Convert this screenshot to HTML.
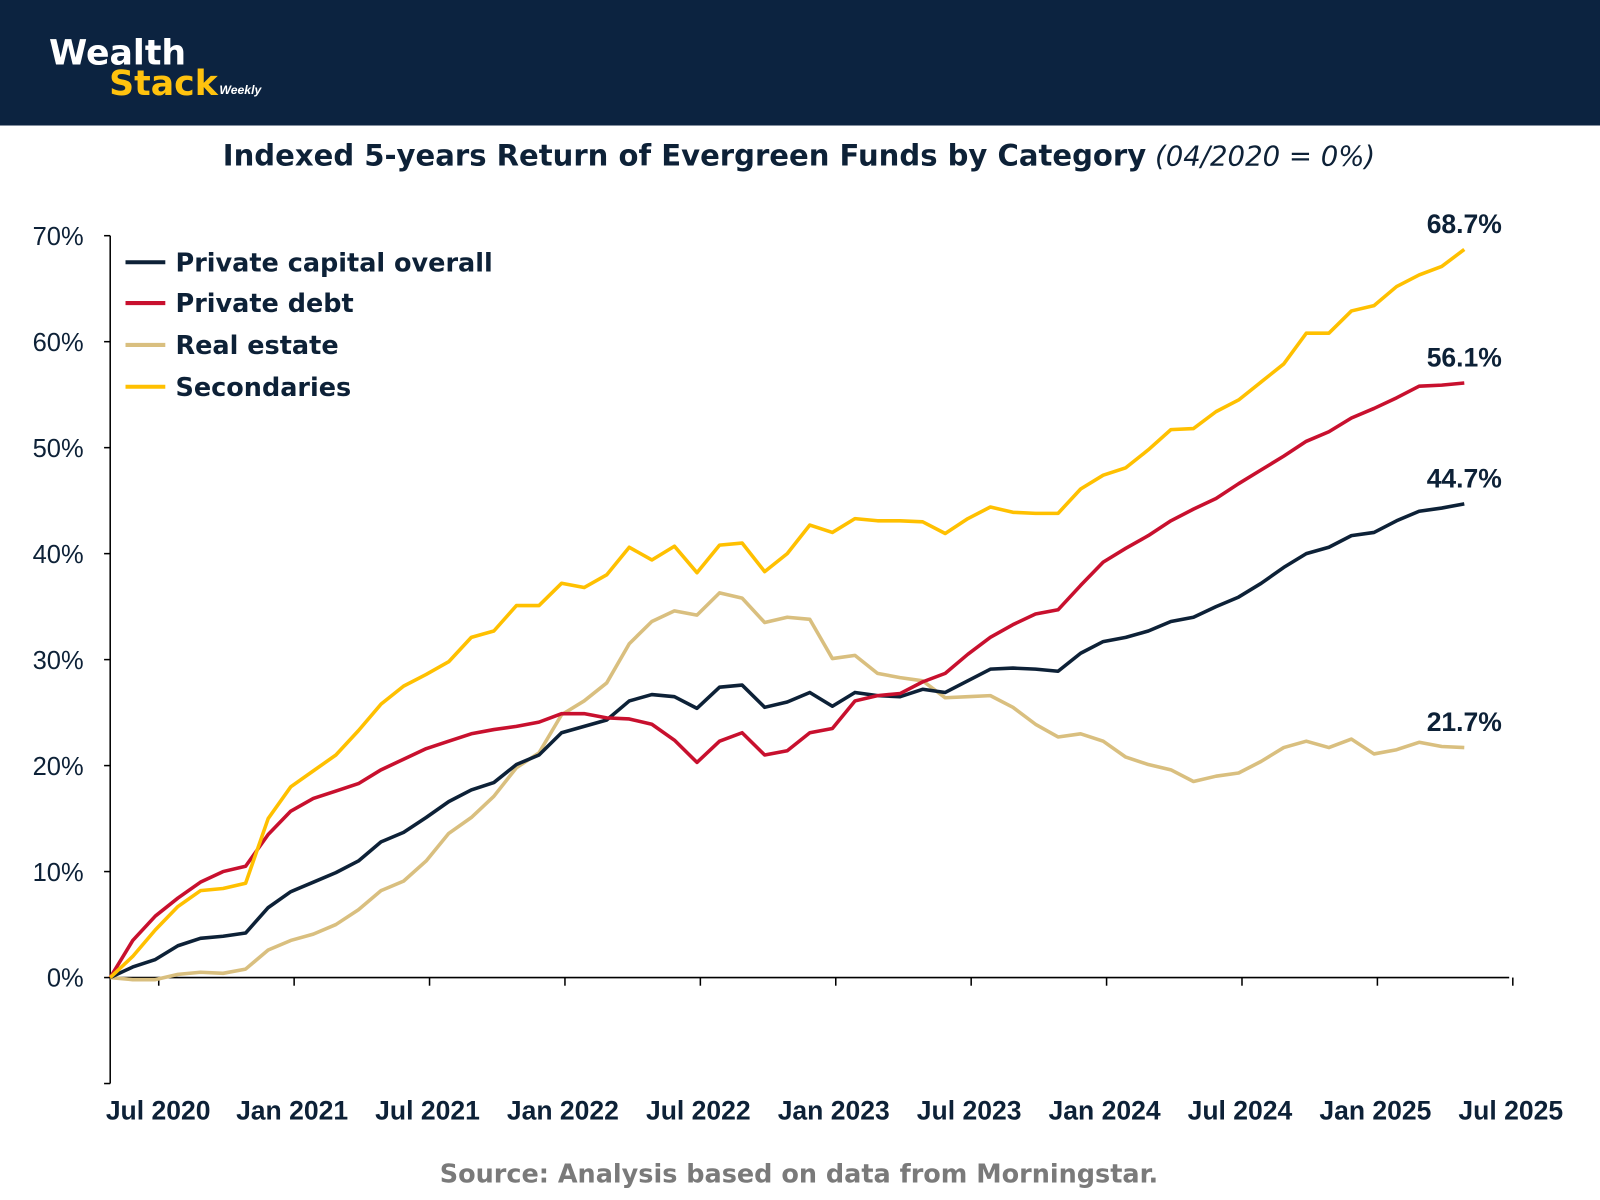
<!DOCTYPE html>
<html><head><meta charset="utf-8"><style>
html,body{margin:0;padding:0;background:#fff}
svg{display:block}
text{font-family:"Liberation Sans",sans-serif}
.dj{font-family:"DejaVu Sans",sans-serif}
</style></head><body>
<svg id="chart" width="1600" height="1200" viewBox="0 0 1568 1176" xmlns="http://www.w3.org/2000/svg">
<rect x="0" y="0" width="1568" height="123" fill="#0c2340"/>
<g>
<text class="dj" x="48" y="63" font-size="34" font-weight="bold" fill="#fff">Wealth</text>
<text class="dj" x="107" y="93" font-size="34" font-weight="bold" fill="#ffc20e">Stack</text>
<text x="215" y="92" font-size="12" font-weight="bold" font-style="italic" fill="#fff">Weekly</text>
</g>
<text class="dj" x="783" y="162" text-anchor="middle" font-size="28.5" fill="#0d2137"><tspan font-weight="bold">Indexed 5-years Return of Evergreen Funds by Category</tspan><tspan font-style="italic" font-size="27"> (04/2020 = 0%)</tspan></text>
<g id="axes"></g>
<g id="series"></g>
<g font-size="25" font-weight="bold" fill="#0d2137">
<line x1="123" y1="257" x2="162" y2="257" stroke="#0d2137" stroke-width="4"/><text class="dj" x="172" y="266">Private capital overall</text>
<line x1="123" y1="297" x2="162" y2="297" stroke="#c8102e" stroke-width="4"/><text class="dj" x="172" y="306">Private debt</text>
<line x1="123" y1="338" x2="162" y2="338" stroke="#d9bf7f" stroke-width="4"/><text class="dj" x="172" y="347">Real estate</text>
<line x1="123" y1="379" x2="162" y2="379" stroke="#ffc000" stroke-width="4"/><text class="dj" x="172" y="388">Secondaries</text>
</g>
<text class="dj" x="783" y="1159" text-anchor="middle" font-size="25" font-weight="bold" fill="#7a7a7a">Source: Analysis based on data from Morningstar.</text>
</svg>
<script>
const overall=[0,1,1.7,3,3.7,3.9,4.2,6.6,8.1,9,9.9,11,12.8,13.7,15.1,16.6,17.7,18.4,20.1,21,23.1,23.7,24.3,26.1,26.7,26.5,25.4,27.4,27.6,25.5,26,26.9,25.6,26.9,26.6,26.5,27.2,26.9,28,29.1,29.2,29.1,28.9,30.6,31.7,32.1,32.7,33.6,34,35,35.9,37.2,38.7,40,40.6,41.7,42,43.1,44,44.3,44.7];
const debt=[0,3.5,5.8,7.5,9,10,10.5,13.5,15.7,16.9,17.6,18.3,19.6,20.6,21.6,22.3,23,23.4,23.7,24.1,24.9,24.9,24.5,24.4,23.9,22.4,20.3,22.3,23.1,21,21.4,23.1,23.5,26.1,26.6,26.8,27.9,28.7,30.5,32.1,33.3,34.3,34.7,37,39.2,40.5,41.7,43.1,44.2,45.2,46.6,47.9,49.2,50.6,51.5,52.8,53.7,54.7,55.8,55.9,56.1];
const realEstate=[0,-0.2,-0.2,0.3,0.5,0.4,0.8,2.6,3.5,4.1,5,6.4,8.2,9.1,11,13.6,15.1,17.1,19.8,21.2,24.8,26.1,27.8,31.5,33.6,34.6,34.2,36.3,35.8,33.5,34,33.8,30.1,30.4,28.7,28.3,28,26.4,26.5,26.6,25.5,23.9,22.7,23,22.3,20.8,20.1,19.6,18.5,19,19.3,20.4,21.7,22.3,21.7,22.5,21.1,21.5,22.2,21.8,21.7];
const secondaries=[0,2,4.5,6.7,8.2,8.4,8.9,15,18,19.5,21,23.3,25.8,27.5,28.6,29.8,32.1,32.7,35.1,35.1,37.2,36.8,38,40.6,39.4,40.7,38.2,40.8,41,38.3,40,42.7,42,43.3,43.1,43.1,43,41.9,43.3,44.4,43.9,43.8,43.8,46.1,47.4,48.1,49.8,51.7,51.8,53.4,54.5,56.2,57.9,60.8,60.8,62.9,63.4,65.2,66.3,67.1,68.7];
const yTicks=[-10,0,10,20,30,40,50,60,70];
const xTickLabels=["Jul 2020","Jan 2021","Jul 2021","Jan 2022","Jul 2022","Jan 2023","Jul 2023","Jan 2024","Jul 2024","Jan 2025","Jul 2025"];
const NS="http://www.w3.org/2000/svg";
const X0=108,X1=1435,Y0=958,PER10=103.86;
const step=(X1-X0)/(overall.length-1);
function x(i){return X0+i*step;}
function y(v){return Y0-v*PER10/10;}
function mk(tag,attrs,parent){const e=document.createElementNS(NS,tag);for(const k in attrs)e.setAttribute(k,attrs[k]);parent.appendChild(e);return e;}
const ax=document.getElementById('axes');
const yAxis=mk('line',{x1:X0,y1:y(-10),x2:X0,y2:y(70),stroke:'#000','stroke-width':1.5},ax);


const xAxis=mk('line',{x1:X0,y1:Y0,x2:1479,y2:Y0,stroke:'#000','stroke-width':1.5},ax);


yTicks.forEach(v=>{
  mk('line',{x1:X0-6,y1:y(v),x2:X0,y2:y(v),stroke:'#000','stroke-width':1.5},ax);
  if(v>=0){const t=mk('text',{x:82,y:y(v)+9,'text-anchor':'end','font-size':25,fill:'#0d2137'},ax);t.textContent=v+'%';
  
  }
});
xTickLabels.forEach((lab,k)=>{
  const xi=x(2.15+6*k);
  mk('line',{x1:xi,y1:Y0,x2:xi,y2:Y0+8,stroke:'#000','stroke-width':1.5},ax);
  const t=mk('text',{x:k==0?155:xi-2,y:1097,'text-anchor':'middle','font-size':26,'font-weight':'bold',fill:'#0d2137'},ax);
  t.textContent=lab;
  
  
});
const sg=document.getElementById('series');
const series=[[realEstate,'#d9bf7f','real-estate'],[overall,'#0d2137','private-capital-overall'],[debt,'#c8102e','private-debt'],[secondaries,'#ffc000','secondaries']];
series.forEach(([d,c,n])=>{
  const p=mk('polyline',{points:d.map((v,i)=>x(i)+','+y(v)).join(' '),fill:'none',stroke:c,'stroke-width':3.5,'stroke-linejoin':'round'},sg);
  
  
  const last=d[d.length-1];
  const t=mk('text',{x:x(d.length-1),y:y(last)-16,'text-anchor':'middle','font-size':26,'font-weight':'bold',fill:'#0d2137'},sg);
  t.textContent=last.toFixed(1)+'%';
  
  
});
</script>
</body></html>
